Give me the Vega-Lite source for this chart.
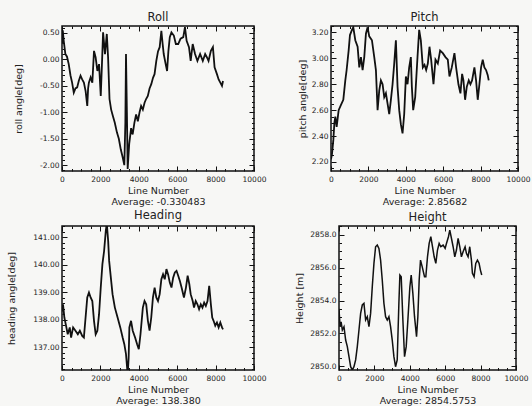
{
  "$schema": "https://vega.github.io/schema/vega-lite/v6.json",
  "background": "#f7f7f5",
  "padding": {"left": 6, "top": 11, "right": 4, "bottom": 0},
  "spacing": 2,
  "vconcat": [
    {
      "spacing": 29,
      "hconcat": [
        {
          "width": 192, "height": 145,
          "title": {"text": "Roll"},
          "data": {"values": [
            {"line":0,"value":0.30},{"line":40,"value":0.55},{"line":90,"value":0.35},{"line":175,"value":0.10},{"line":260,"value":0.05},{"line":350,"value":-0.09},{"line":440,"value":-0.30},{"line":526,"value":-0.44},{"line":614,"value":-0.63},{"line":700,"value":-0.55},{"line":790,"value":-0.53},{"line":880,"value":-0.40},{"line":965,"value":-0.31},{"line":1050,"value":-0.38},{"line":1140,"value":-0.44},{"line":1230,"value":-0.60},{"line":1316,"value":-0.88},{"line":1360,"value":-0.55},{"line":1400,"value":-0.44},{"line":1490,"value":-0.34},{"line":1580,"value":-0.44},{"line":1667,"value":0.16},{"line":1750,"value":0.04},{"line":1842,"value":-0.22},{"line":1930,"value":-0.09},{"line":2018,"value":-0.69},{"line":2080,"value":-0.10},{"line":2140,"value":0.51},{"line":2240,"value":0.10},{"line":2333,"value":0.48},{"line":2400,"value":0.04},{"line":2474,"value":-0.75},{"line":2560,"value":-0.95},{"line":2650,"value":-1.07},{"line":2750,"value":-1.20},{"line":2860,"value":-1.38},{"line":2960,"value":-1.50},{"line":3060,"value":-1.70},{"line":3160,"value":-1.85},{"line":3246,"value":-2.00},{"line":3300,"value":-1.20},{"line":3333,"value":0.10},{"line":3380,"value":-1.00},{"line":3420,"value":-2.07},{"line":3500,"value":-1.60},{"line":3600,"value":-1.30},{"line":3680,"value":-1.42},{"line":3770,"value":-1.20},{"line":3860,"value":-1.04},{"line":3950,"value":-1.17},{"line":4040,"value":-1.00},{"line":4120,"value":-0.88},{"line":4210,"value":-0.95},{"line":4300,"value":-0.82},{"line":4380,"value":-0.75},{"line":4470,"value":-0.69},{"line":4560,"value":-0.55},{"line":4650,"value":-0.47},{"line":4740,"value":-0.35},{"line":4820,"value":-0.28},{"line":4912,"value":-0.03},{"line":5000,"value":0.15},{"line":5088,"value":0.23},{"line":5175,"value":0.54},{"line":5240,"value":0.30},{"line":5298,"value":0.10},{"line":5400,"value":-0.09},{"line":5474,"value":-0.22},{"line":5540,"value":0.15},{"line":5614,"value":0.42},{"line":5700,"value":0.51},{"line":5825,"value":0.45},{"line":5930,"value":0.29},{"line":6053,"value":0.29},{"line":6175,"value":0.39},{"line":6316,"value":0.42},{"line":6404,"value":0.61},{"line":6491,"value":0.35},{"line":6614,"value":0.23},{"line":6702,"value":-0.03},{"line":6807,"value":0.29},{"line":6930,"value":0.10},{"line":7053,"value":-0.03},{"line":7193,"value":0.10},{"line":7333,"value":-0.03},{"line":7456,"value":0.10},{"line":7544,"value":0.04},{"line":7632,"value":-0.03},{"line":7754,"value":0.16},{"line":7860,"value":0.23},{"line":7947,"value":-0.15},{"line":8070,"value":-0.28},{"line":8158,"value":-0.38},{"line":8246,"value":-0.44},{"line":8333,"value":-0.50},{"line":8386,"value":-0.41}
          ]},
          "layer": [
            {
              "mark": {"type": "line", "color": "#111", "strokeWidth": 1.8, "clip": true},
              "encoding": {
                "x": {"field": "line", "type": "quantitative", "scale": {"domain": [0, 10000], "nice": false},
                  "axis": {"orient": "bottom", "values": [0,2000,4000,6000,8000,10000], "format": "d", "tickSize": -5, "labelPadding": 9,
                    "title": ["Line Number", "Average:   -0.330483"], "titlePadding": 3}},
                "y": {"field": "value", "type": "quantitative", "scale": {"domain": [-2.11, 0.63], "nice": false, "zero": false},
                  "axis": {"orient": "left", "values": [-2,-1.5,-1,-0.5,0,0.5], "tickSize": -5, "labelPadding": 8,
                    "labelExpr": "replace(format(datum.value, '.2f'), '\u2212', '-')",
                    "title": "roll angle[deg]", "titlePadding": 16}}
              }
            },
            {
              "mark": {"type": "line", "opacity": 0},
              "encoding": {
                "x": {"field": "line", "type": "quantitative", "scale": {"domain": [0, 10000], "nice": false},
                  "axis": {"orient": "top", "values": [0,2000,4000,6000,8000,10000], "tickSize": -5, "labels": false, "title": null}},
                "y": {"field": "value", "type": "quantitative", "scale": {"domain": [-2.11, 0.63], "nice": false, "zero": false},
                  "axis": {"orient": "right", "values": [-2,-1.5,-1,-0.5,0,0.5], "tickSize": -5, "labels": false, "title": null}}
              }
            },
            {
              "mark": {"type": "line", "opacity": 0},
              "encoding": {
                "x": {"field": "line", "type": "quantitative", "scale": {"domain": [0, 10000], "nice": false},
                  "axis": {"orient": "bottom", "values": [500,1000,1500,2500,3000,3500,4500,5000,5500,6500,7000,7500,8500,9000,9500], "tickSize": -2.5, "labels": false, "title": null}},
                "y": {"field": "value", "type": "quantitative", "scale": {"domain": [-2.11, 0.63], "nice": false, "zero": false},
                  "axis": {"orient": "left", "values": [-2.1,-1.9,-1.8,-1.7,-1.6,-1.4,-1.3,-1.2,-1.1,-0.9,-0.8,-0.7,-0.6,-0.4,-0.3,-0.2,-0.1,0.1,0.2,0.3,0.4,0.6], "tickSize": -2.5, "labels": false, "title": null}}
              }
            },
            {
              "mark": {"type": "line", "opacity": 0},
              "encoding": {
                "x": {"field": "line", "type": "quantitative", "scale": {"domain": [0, 10000], "nice": false},
                  "axis": {"orient": "top", "values": [500,1000,1500,2500,3000,3500,4500,5000,5500,6500,7000,7500,8500,9000,9500], "tickSize": -2.5, "labels": false, "title": null}},
                "y": {"field": "value", "type": "quantitative", "scale": {"domain": [-2.11, 0.63], "nice": false, "zero": false},
                  "axis": {"orient": "right", "values": [-2.1,-1.9,-1.8,-1.7,-1.6,-1.4,-1.3,-1.2,-1.1,-0.9,-0.8,-0.7,-0.6,-0.4,-0.3,-0.2,-0.1,0.1,0.2,0.3,0.4,0.6], "tickSize": -2.5, "labels": false, "title": null}}
              }
            }
          ],
          "resolve": {"axis": {"x": "independent", "y": "independent"}}
        },
        {
          "width": 187, "height": 145,
          "title": {"text": "Pitch"},
          "data": {"values": [
            {"line":0,"value":2.22},{"line":53,"value":2.26},{"line":125,"value":2.37},{"line":180,"value":2.50},{"line":231,"value":2.55},{"line":302,"value":2.47},{"line":409,"value":2.60},{"line":534,"value":2.64},{"line":658,"value":2.68},{"line":765,"value":2.83},{"line":836,"value":2.91},{"line":943,"value":3.06},{"line":1014,"value":3.18},{"line":1121,"value":3.22},{"line":1192,"value":3.24},{"line":1299,"value":3.14},{"line":1423,"value":3.09},{"line":1512,"value":2.93},{"line":1601,"value":3.01},{"line":1690,"value":2.91},{"line":1779,"value":3.01},{"line":1868,"value":3.19},{"line":1957,"value":3.24},{"line":2046,"value":3.17},{"line":2189,"value":3.14},{"line":2313,"value":3.01},{"line":2402,"value":2.91},{"line":2491,"value":2.60},{"line":2580,"value":2.75},{"line":2669,"value":2.83},{"line":2758,"value":2.80},{"line":2847,"value":2.70},{"line":2936,"value":2.73},{"line":3025,"value":2.65},{"line":3114,"value":2.57},{"line":3203,"value":2.68},{"line":3292,"value":2.80},{"line":3381,"value":2.96},{"line":3470,"value":3.14},{"line":3559,"value":2.78},{"line":3648,"value":2.60},{"line":3737,"value":2.49},{"line":3826,"value":2.42},{"line":3915,"value":2.57},{"line":4004,"value":2.86},{"line":4093,"value":2.80},{"line":4181,"value":2.93},{"line":4270,"value":3.01},{"line":4324,"value":2.78},{"line":4395,"value":2.60},{"line":4502,"value":2.70},{"line":4626,"value":3.01},{"line":4715,"value":3.22},{"line":4804,"value":3.14},{"line":4911,"value":2.93},{"line":5000,"value":2.95},{"line":5089,"value":2.91},{"line":5178,"value":2.96},{"line":5267,"value":3.09},{"line":5356,"value":2.99},{"line":5480,"value":2.80},{"line":5587,"value":2.99},{"line":5712,"value":2.96},{"line":5836,"value":3.06},{"line":5979,"value":3.04},{"line":6121,"value":3.01},{"line":6246,"value":2.99},{"line":6335,"value":2.86},{"line":6459,"value":2.93},{"line":6601,"value":3.04},{"line":6690,"value":2.93},{"line":6815,"value":2.80},{"line":6922,"value":2.73},{"line":7011,"value":2.88},{"line":7082,"value":2.83},{"line":7171,"value":2.68},{"line":7260,"value":2.78},{"line":7367,"value":2.83},{"line":7456,"value":2.80},{"line":7544,"value":2.83},{"line":7669,"value":2.93},{"line":7758,"value":2.83},{"line":7847,"value":2.68},{"line":7936,"value":2.80},{"line":8025,"value":2.93},{"line":8114,"value":2.99},{"line":8203,"value":2.93},{"line":8292,"value":2.91},{"line":8381,"value":2.87},{"line":8434,"value":2.83}
          ]},
          "layer": [
            {
              "mark": {"type": "line", "color": "#111", "strokeWidth": 1.8, "clip": true},
              "encoding": {
                "x": {"field": "line", "type": "quantitative", "scale": {"domain": [0, 10000], "nice": false},
                  "axis": {"orient": "bottom", "values": [0,2000,4000,6000,8000,10000], "format": "d", "tickSize": -5, "labelPadding": 9,
                    "title": ["Line Number", "Average:   2.85682"], "titlePadding": 3}},
                "y": {"field": "value", "type": "quantitative", "scale": {"domain": [2.13, 3.25], "nice": false, "zero": false},
                  "axis": {"orient": "left", "values": [2.2,2.4,2.6,2.8,3.0,3.2], "format": ".2f", "tickSize": -5, "labelPadding": 8,
                    "title": "pitch angle[deg]", "titlePadding": 4}}
              }
            },
            {
              "mark": {"type": "line", "opacity": 0},
              "encoding": {
                "x": {"field": "line", "type": "quantitative", "scale": {"domain": [0, 10000], "nice": false},
                  "axis": {"orient": "top", "values": [0,2000,4000,6000,8000,10000], "tickSize": -5, "labels": false, "title": null}},
                "y": {"field": "value", "type": "quantitative", "scale": {"domain": [2.13, 3.25], "nice": false, "zero": false},
                  "axis": {"orient": "right", "values": [2.2,2.4,2.6,2.8,3.0,3.2], "tickSize": -5, "labels": false, "title": null}}
              }
            },
            {
              "mark": {"type": "line", "opacity": 0},
              "encoding": {
                "x": {"field": "line", "type": "quantitative", "scale": {"domain": [0, 10000], "nice": false},
                  "axis": {"orient": "bottom", "values": [500,1000,1500,2500,3000,3500,4500,5000,5500,6500,7000,7500,8500,9000,9500], "tickSize": -2.5, "labels": false, "title": null}},
                "y": {"field": "value", "type": "quantitative", "scale": {"domain": [2.13, 3.25], "nice": false, "zero": false},
                  "axis": {"orient": "left", "values": [2.15,2.25,2.3,2.35,2.45,2.5,2.55,2.65,2.7,2.75,2.85,2.9,2.95,3.05,3.1,3.15,3.25], "tickSize": -2.5, "labels": false, "title": null}}
              }
            },
            {
              "mark": {"type": "line", "opacity": 0},
              "encoding": {
                "x": {"field": "line", "type": "quantitative", "scale": {"domain": [0, 10000], "nice": false},
                  "axis": {"orient": "top", "values": [500,1000,1500,2500,3000,3500,4500,5000,5500,6500,7000,7500,8500,9000,9500], "tickSize": -2.5, "labels": false, "title": null}},
                "y": {"field": "value", "type": "quantitative", "scale": {"domain": [2.13, 3.25], "nice": false, "zero": false},
                  "axis": {"orient": "right", "values": [2.15,2.25,2.3,2.35,2.45,2.5,2.55,2.65,2.7,2.75,2.85,2.9,2.95,3.05,3.1,3.15,3.25], "tickSize": -2.5, "labels": false, "title": null}}
              }
            }
          ],
          "resolve": {"axis": {"x": "independent", "y": "independent"}}
        }
      ]
    },
    {
      "spacing": 27,
      "hconcat": [
        {
          "width": 192, "height": 144,
          "title": {"text": "Heading"},
          "data": {"values": [
            {"line":0,"value":138.30},{"line":53,"value":138.56},{"line":123,"value":138.08},{"line":228,"value":137.72},{"line":298,"value":137.47},{"line":404,"value":137.72},{"line":474,"value":137.35},{"line":579,"value":137.72},{"line":702,"value":137.60},{"line":825,"value":137.47},{"line":930,"value":137.60},{"line":1053,"value":137.41},{"line":1140,"value":137.35},{"line":1228,"value":138.08},{"line":1316,"value":138.81},{"line":1404,"value":138.99},{"line":1491,"value":138.81},{"line":1579,"value":138.68},{"line":1667,"value":137.96},{"line":1754,"value":137.47},{"line":1842,"value":137.60},{"line":1930,"value":138.20},{"line":2018,"value":139.17},{"line":2105,"value":140.02},{"line":2193,"value":140.50},{"line":2281,"value":141.23},{"line":2333,"value":141.50},{"line":2404,"value":140.87},{"line":2456,"value":140.14},{"line":2544,"value":139.53},{"line":2632,"value":138.93},{"line":2754,"value":138.44},{"line":2895,"value":138.08},{"line":3035,"value":137.72},{"line":3158,"value":137.35},{"line":3246,"value":137.11},{"line":3333,"value":136.75},{"line":3421,"value":136.00},{"line":3470,"value":136.60},{"line":3509,"value":137.72},{"line":3596,"value":137.96},{"line":3684,"value":137.60},{"line":3807,"value":137.35},{"line":3912,"value":137.11},{"line":4000,"value":136.93},{"line":4088,"value":137.47},{"line":4211,"value":138.44},{"line":4298,"value":138.68},{"line":4386,"value":138.56},{"line":4474,"value":137.96},{"line":4561,"value":137.60},{"line":4649,"value":138.08},{"line":4737,"value":138.81},{"line":4825,"value":139.17},{"line":4912,"value":138.81},{"line":5000,"value":138.68},{"line":5088,"value":138.93},{"line":5175,"value":139.47},{"line":5263,"value":139.65},{"line":5351,"value":139.47},{"line":5439,"value":139.84},{"line":5526,"value":139.65},{"line":5614,"value":139.35},{"line":5702,"value":139.17},{"line":5789,"value":139.53},{"line":5877,"value":139.72},{"line":5965,"value":139.78},{"line":6053,"value":139.60},{"line":6140,"value":139.41},{"line":6228,"value":139.17},{"line":6351,"value":138.81},{"line":6456,"value":139.17},{"line":6544,"value":139.60},{"line":6632,"value":139.29},{"line":6702,"value":138.93},{"line":6807,"value":138.68},{"line":6877,"value":138.44},{"line":6965,"value":138.68},{"line":7053,"value":138.56},{"line":7140,"value":138.38},{"line":7228,"value":138.56},{"line":7316,"value":138.44},{"line":7404,"value":138.62},{"line":7491,"value":138.50},{"line":7579,"value":138.68},{"line":7667,"value":139.23},{"line":7754,"value":138.56},{"line":7825,"value":138.08},{"line":7895,"value":137.96},{"line":7982,"value":137.78},{"line":8070,"value":137.90},{"line":8158,"value":137.72},{"line":8246,"value":137.90},{"line":8333,"value":137.72},{"line":8386,"value":137.65}
          ]},
          "layer": [
            {
              "mark": {"type": "line", "color": "#111", "strokeWidth": 1.8, "clip": true},
              "encoding": {
                "x": {"field": "line", "type": "quantitative", "scale": {"domain": [0, 10000], "nice": false},
                  "axis": {"orient": "bottom", "values": [0,2000,4000,6000,8000,10000], "format": "d", "tickSize": -5, "labelPadding": 9,
                    "title": ["Line Number", "Average:   138.380"], "titlePadding": 3}},
                "y": {"field": "value", "type": "quantitative", "scale": {"domain": [136.17, 141.41], "nice": false, "zero": false},
                  "axis": {"orient": "left", "values": [137,138,139,140,141], "format": ".2f", "tickSize": -5, "labelPadding": 8,
                    "title": "heading angle[deg]", "titlePadding": 16}}
              }
            },
            {
              "mark": {"type": "line", "opacity": 0},
              "encoding": {
                "x": {"field": "line", "type": "quantitative", "scale": {"domain": [0, 10000], "nice": false},
                  "axis": {"orient": "top", "values": [0,2000,4000,6000,8000,10000], "tickSize": -5, "labels": false, "title": null}},
                "y": {"field": "value", "type": "quantitative", "scale": {"domain": [136.17, 141.41], "nice": false, "zero": false},
                  "axis": {"orient": "right", "values": [137,138,139,140,141], "tickSize": -5, "labels": false, "title": null}}
              }
            },
            {
              "mark": {"type": "line", "opacity": 0},
              "encoding": {
                "x": {"field": "line", "type": "quantitative", "scale": {"domain": [0, 10000], "nice": false},
                  "axis": {"orient": "bottom", "values": [500,1000,1500,2500,3000,3500,4500,5000,5500,6500,7000,7500,8500,9000,9500], "tickSize": -2.5, "labels": false, "title": null}},
                "y": {"field": "value", "type": "quantitative", "scale": {"domain": [136.17, 141.41], "nice": false, "zero": false},
                  "axis": {"orient": "left", "values": [136.2,136.4,136.6,136.8,137.2,137.4,137.6,137.8,138.2,138.4,138.6,138.8,139.2,139.4,139.6,139.8,140.2,140.4,140.6,140.8,141.2,141.4], "tickSize": -2.5, "labels": false, "title": null}}
              }
            },
            {
              "mark": {"type": "line", "opacity": 0},
              "encoding": {
                "x": {"field": "line", "type": "quantitative", "scale": {"domain": [0, 10000], "nice": false},
                  "axis": {"orient": "top", "values": [500,1000,1500,2500,3000,3500,4500,5000,5500,6500,7000,7500,8500,9000,9500], "tickSize": -2.5, "labels": false, "title": null}},
                "y": {"field": "value", "type": "quantitative", "scale": {"domain": [136.17, 141.41], "nice": false, "zero": false},
                  "axis": {"orient": "right", "values": [136.2,136.4,136.6,136.8,137.2,137.4,137.6,137.8,138.2,138.4,138.6,138.8,139.2,139.4,139.6,139.8,140.2,140.4,140.6,140.8,141.2,141.4], "tickSize": -2.5, "labels": false, "title": null}}
              }
            }
          ],
          "resolve": {"axis": {"x": "independent", "y": "independent"}}
        },
        {
          "width": 177, "height": 144,
          "title": {"text": "Height"},
          "data": {"values": [
            {"line":0,"value":2853.50},{"line":60,"value":2852.40},{"line":120,"value":2852.70},{"line":188,"value":2852.21},{"line":282,"value":2852.41},{"line":376,"value":2851.60},{"line":470,"value":2851.20},{"line":564,"value":2850.59},{"line":658,"value":2849.98},{"line":752,"value":2849.78},{"line":846,"value":2849.98},{"line":940,"value":2850.39},{"line":1034,"value":2851.20},{"line":1128,"value":2852.21},{"line":1222,"value":2853.22},{"line":1316,"value":2853.73},{"line":1410,"value":2853.83},{"line":1504,"value":2852.82},{"line":1598,"value":2853.02},{"line":1692,"value":2852.41},{"line":1786,"value":2853.22},{"line":1880,"value":2854.84},{"line":1974,"value":2856.26},{"line":2068,"value":2857.27},{"line":2162,"value":2857.37},{"line":2256,"value":2857.17},{"line":2350,"value":2856.46},{"line":2444,"value":2855.25},{"line":2538,"value":2853.83},{"line":2632,"value":2853.02},{"line":2726,"value":2852.82},{"line":2820,"value":2853.02},{"line":2914,"value":2852.41},{"line":3008,"value":2851.60},{"line":3102,"value":2850.59},{"line":3195,"value":2849.98},{"line":3289,"value":2850.39},{"line":3383,"value":2853.83},{"line":3440,"value":2855.55},{"line":3515,"value":2855.45},{"line":3609,"value":2852.82},{"line":3703,"value":2850.59},{"line":3797,"value":2851.20},{"line":3891,"value":2852.82},{"line":4004,"value":2854.84},{"line":4079,"value":2855.55},{"line":4173,"value":2854.44},{"line":4267,"value":2853.02},{"line":4380,"value":2851.81},{"line":4455,"value":2853.02},{"line":4530,"value":2855.25},{"line":4605,"value":2856.46},{"line":4699,"value":2856.06},{"line":4831,"value":2855.45},{"line":4906,"value":2855.45},{"line":5000,"value":2856.66},{"line":5094,"value":2857.47},{"line":5188,"value":2857.88},{"line":5282,"value":2857.27},{"line":5376,"value":2856.66},{"line":5470,"value":2856.26},{"line":5564,"value":2857.07},{"line":5658,"value":2857.47},{"line":5752,"value":2857.27},{"line":5883,"value":2857.37},{"line":5996,"value":2857.17},{"line":6071,"value":2857.47},{"line":6184,"value":2857.88},{"line":6259,"value":2858.28},{"line":6372,"value":2857.68},{"line":6447,"value":2857.27},{"line":6541,"value":2856.66},{"line":6635,"value":2857.07},{"line":6729,"value":2857.78},{"line":6823,"value":2857.27},{"line":6917,"value":2856.66},{"line":7011,"value":2856.97},{"line":7124,"value":2857.27},{"line":7199,"value":2856.87},{"line":7293,"value":2856.66},{"line":7387,"value":2857.27},{"line":7481,"value":2856.46},{"line":7538,"value":2855.65},{"line":7632,"value":2855.45},{"line":7726,"value":2856.26},{"line":7820,"value":2856.46},{"line":7914,"value":2856.26},{"line":7989,"value":2855.85},{"line":8064,"value":2855.55}
          ]},
          "layer": [
            {
              "mark": {"type": "line", "color": "#111", "strokeWidth": 1.5, "clip": true},
              "encoding": {
                "x": {"field": "line", "type": "quantitative", "scale": {"domain": [0, 10000], "nice": false},
                  "axis": {"orient": "bottom", "values": [0,2000,4000,6000,8000,10000], "format": "d", "tickSize": -5, "labelPadding": 9,
                    "title": ["Line Number", "Average:  2854.5753"], "titlePadding": 3}},
                "y": {"field": "value", "type": "quantitative", "scale": {"domain": [2849.78, 2858.53], "nice": false, "zero": false},
                  "axis": {"orient": "left", "values": [2850,2852,2854,2856,2858], "format": ".1f", "tickSize": -5, "labelPadding": 8,
                    "title": "Height [m]", "titlePadding": 5}}
              }
            },
            {
              "mark": {"type": "line", "opacity": 0},
              "encoding": {
                "x": {"field": "line", "type": "quantitative", "scale": {"domain": [0, 10000], "nice": false},
                  "axis": {"orient": "top", "values": [0,2000,4000,6000,8000,10000], "tickSize": -5, "labels": false, "title": null}},
                "y": {"field": "value", "type": "quantitative", "scale": {"domain": [2849.78, 2858.53], "nice": false, "zero": false},
                  "axis": {"orient": "right", "values": [2850,2852,2854,2856,2858], "tickSize": -5, "labels": false, "title": null}}
              }
            },
            {
              "mark": {"type": "line", "opacity": 0},
              "encoding": {
                "x": {"field": "line", "type": "quantitative", "scale": {"domain": [0, 10000], "nice": false},
                  "axis": {"orient": "bottom", "values": [500,1000,1500,2500,3000,3500,4500,5000,5500,6500,7000,7500,8500,9000,9500], "tickSize": -2.5, "labels": false, "title": null}},
                "y": {"field": "value", "type": "quantitative", "scale": {"domain": [2849.78, 2858.53], "nice": false, "zero": false},
                  "axis": {"orient": "left", "values": [2850.5,2851,2851.5,2852.5,2853,2853.5,2854.5,2855,2855.5,2856.5,2857,2857.5,2858.5], "tickSize": -2.5, "labels": false, "title": null}}
              }
            },
            {
              "mark": {"type": "line", "opacity": 0},
              "encoding": {
                "x": {"field": "line", "type": "quantitative", "scale": {"domain": [0, 10000], "nice": false},
                  "axis": {"orient": "top", "values": [500,1000,1500,2500,3000,3500,4500,5000,5500,6500,7000,7500,8500,9000,9500], "tickSize": -2.5, "labels": false, "title": null}},
                "y": {"field": "value", "type": "quantitative", "scale": {"domain": [2849.78, 2858.53], "nice": false, "zero": false},
                  "axis": {"orient": "right", "values": [2850.5,2851,2851.5,2852.5,2853,2853.5,2854.5,2855,2855.5,2856.5,2857,2857.5,2858.5], "tickSize": -2.5, "labels": false, "title": null}}
              }
            }
          ],
          "resolve": {"axis": {"x": "independent", "y": "independent"}}
        }
      ]
    }
  ],
  "config": {
    "view": {"stroke": "#111", "strokeWidth": 1.5},
    "axis": {
      "labelFont": "DejaVu Sans", "labelFontSize": 7.5, "labelColor": "#222",
      "titleFont": "DejaVu Sans", "titleFontSize": 9.5, "titleFontWeight": "normal", "titleColor": "#222",
      "titleLineHeight": 10.5,
      "domain": false, "grid": false, "labelOverlap": false, "labelFlush": false,
      "ticks": true, "tickColor": "#111", "tickWidth": 1, "tickOpacity": 1
    },
    "title": {"font": "DejaVu Sans", "fontSize": 11.5, "fontWeight": "normal", "color": "#222", "offset": 2}
  }
}
